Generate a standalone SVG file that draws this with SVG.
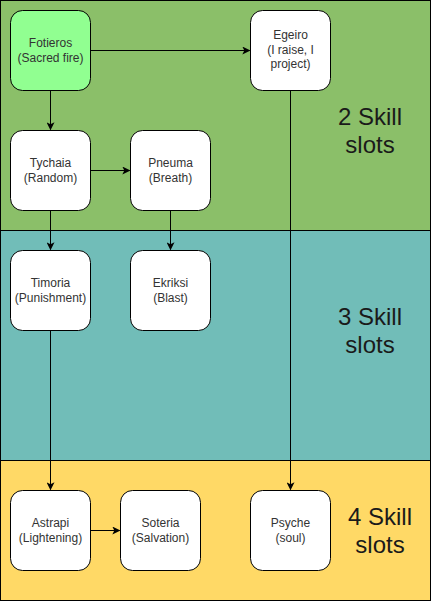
<svg xmlns="http://www.w3.org/2000/svg" width="431" height="601" viewBox="0 0 431 601">
<defs>
<style>
.band{stroke:#000;stroke-width:1}
.node rect{fill:#fff;stroke:#000;stroke-width:1}
.node text{font-family:"Liberation Sans",Arial,sans-serif;font-size:12px;fill:#333;text-anchor:middle}
.big{font-family:"Liberation Sans",Arial,sans-serif;font-size:24px;fill:#1a1a1a;text-anchor:middle}
.conn path{fill:none;stroke:#000;stroke-width:1;marker-end:url(#arr)}
</style>
<marker id="arr" viewBox="0 0 10 10" refX="9" refY="5" markerWidth="8" markerHeight="8" markerUnits="userSpaceOnUse" orient="auto">
<path d="M0,0 L10,5 L0,10 L2.5,5 Z" fill="#000"/>
</marker>
</defs>
<g id="bands">
<rect class="band" x="0.5" y="0.5" width="430" height="230" fill="#8BBF69"/>
<rect class="band" x="0.5" y="230.5" width="430" height="230" fill="#71BDB8"/>
<rect class="band" x="0.5" y="460.5" width="430" height="140" fill="#FFD966"/>
<text class="big" x="370" y="125">2 Skill</text>
<text class="big" x="370" y="153">slots</text>
<text class="big" x="370" y="325">3 Skill</text>
<text class="big" x="370" y="353">slots</text>
<text class="big" x="380" y="525">4 Skill</text>
<text class="big" x="380" y="553">slots</text>
</g>
<g id="connectors" class="conn">
<path d="M90.5,50.5 H249.5"/>
<path d="M50.5,90.5 V129.5"/>
<path d="M90.5,170.5 H129.5"/>
<path d="M50.5,210.5 V249.5"/>
<path d="M170.5,210.5 V249.5"/>
<path d="M50.5,330.5 V489.5"/>
<path d="M90.5,530.5 H119.5"/>
<path d="M290.5,90.5 V489.5"/>
</g>
<g id="fotieros" class="node">
<rect x="10.5" y="10.5" width="80" height="80" rx="12" style="fill:#91FF91"/>
<text x="50.5" y="47">Fotieros</text>
<text x="50.5" y="62">(Sacred fire)</text>
</g>
<g id="egeiro" class="node">
<rect x="250.5" y="10.5" width="80" height="80" rx="12"/>
<text x="290.5" y="39">Egeiro</text>
<text x="290.5" y="54">(I raise, I</text>
<text x="290.5" y="68">project)</text>
</g>
<g id="tychaia" class="node">
<rect x="10.5" y="130.5" width="80" height="80" rx="12"/>
<text x="50.5" y="167">Tychaia</text>
<text x="50.5" y="182">(Random)</text>
</g>
<g id="pneuma" class="node">
<rect x="130.5" y="130.5" width="80" height="80" rx="12"/>
<text x="170.5" y="167">Pneuma</text>
<text x="170.5" y="182">(Breath)</text>
</g>
<g id="timoria" class="node">
<rect x="10.5" y="250.5" width="80" height="80" rx="12"/>
<text x="50.5" y="287">Timoria</text>
<text x="50.5" y="302">(Punishment)</text>
</g>
<g id="ekriksi" class="node">
<rect x="130.5" y="250.5" width="80" height="80" rx="12"/>
<text x="170.5" y="287">Ekriksi</text>
<text x="170.5" y="302">(Blast)</text>
</g>
<g id="astrapi" class="node">
<rect x="10.5" y="490.5" width="80" height="80" rx="12"/>
<text x="50.5" y="527">Astrapi</text>
<text x="50.5" y="542">(Lightening)</text>
</g>
<g id="soteria" class="node">
<rect x="120.5" y="490.5" width="80" height="80" rx="12"/>
<text x="160.5" y="527">Soteria</text>
<text x="160.5" y="542">(Salvation)</text>
</g>
<g id="psyche" class="node">
<rect x="250.5" y="490.5" width="80" height="80" rx="12"/>
<text x="290.5" y="527">Psyche</text>
<text x="290.5" y="542">(soul)</text>
</g>
</svg>
